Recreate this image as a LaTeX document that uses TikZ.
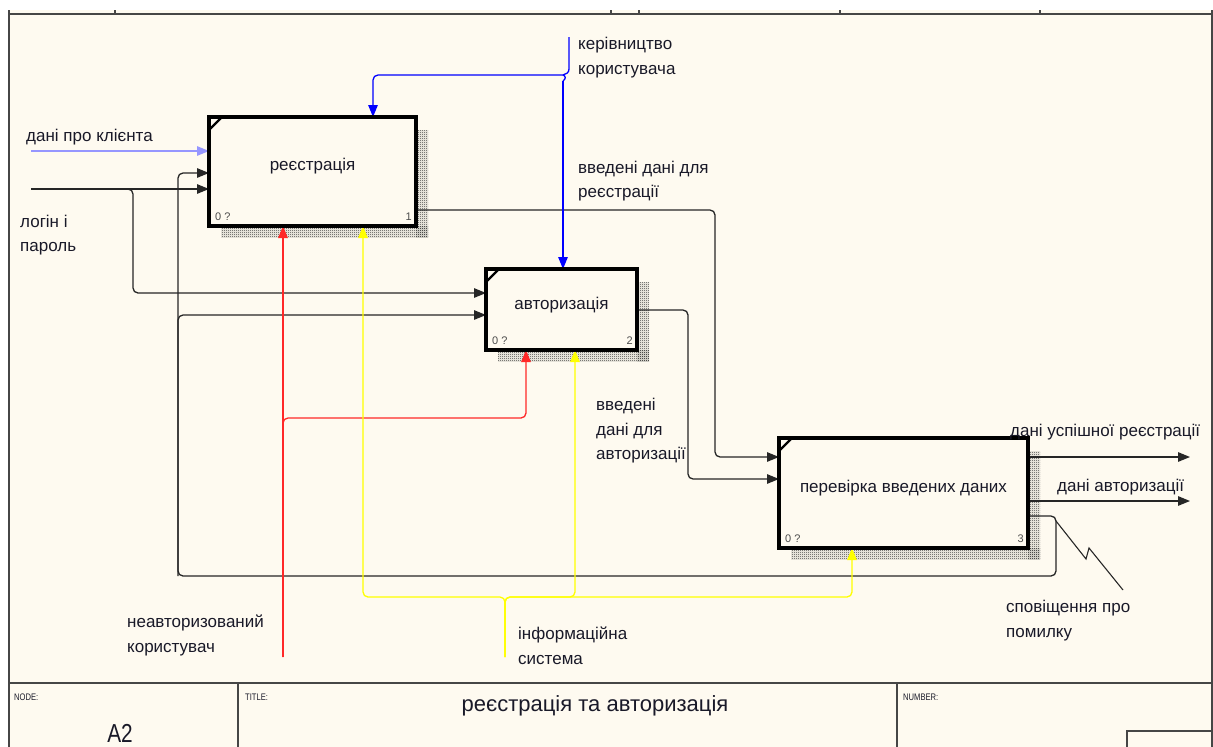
\documentclass[tikz,border=0pt]{standalone}
\usepackage{fontspec}
\setmainfont{Liberation Sans}
\usetikzlibrary{arrows.meta,patterns,calc}
\definecolor{cream}{RGB}{254,250,240}
\definecolor{lblue}{RGB}{150,150,255}
\definecolor{cblue}{RGB}{0,0,255}
\definecolor{cred}{RGB}{255,40,40}
\definecolor{cyel}{RGB}{255,255,0}
\definecolor{framec}{RGB}{70,70,70}
\definecolor{txtc}{RGB}{25,25,40}
\pgfdeclarepatternformonly{checkerdots}{\pgfqpoint{0pt}{0pt}}{\pgfqpoint{2pt}{2pt}}{\pgfqpoint{2pt}{2pt}}{%
  \pgfpathrectangle{\pgfqpoint{0pt}{0pt}}{\pgfqpoint{1pt}{1pt}}%
  \pgfpathrectangle{\pgfqpoint{1pt}{1pt}}{\pgfqpoint{1pt}{1pt}}%
  \pgfusepath{fill}}
\begin{document}
\begin{tikzpicture}[x=1pt,y=-1pt,
  conn/.style={draw=black!85, line width=1.3pt, rounded corners=5pt},
  arr/.style={-{Triangle[length=12pt,width=9.5pt]}},
  procbox/.style={draw=black, line width=3.2pt, fill=cream, inner sep=0pt, outer sep=0pt},
  shade/.style={pattern=checkerdots, pattern color=black!80},
  lbl/.style={anchor=base west, inner sep=0pt, font=\fontsize{17}{20}\selectfont, text=txtc},
  boxtxt/.style={inner sep=0pt, font=\fontsize{17}{20}\selectfont, text=txtc},
  num/.style={anchor=base west, inner sep=0pt, font=\fontsize{11}{12}\selectfont, text=black!70},
  frameline/.style={draw=framec, line width=1.3pt},
  tinylbl/.style={anchor=base west, inner sep=0pt, font=\fontsize{9.5}{11}\selectfont, text=txtc}
]
\useasboundingbox (0,0) rectangle (1213,747);
\fill[cream] (9,10) rectangle (1212,747);

% frame
\draw[frameline] (9,10) -- (9,747);
\draw[frameline] (9,14) -- (1212,14);
\draw[frameline] (1212,10) -- (1212,747);
\foreach \t in {115,611,639,840,1040} \draw[frameline] (\t,10) -- (\t,14);
\draw[frameline] (9,683) -- (1212,683);
\draw[frameline] (238,683) -- (238,747);
\draw[frameline] (897,683) -- (897,747);
\draw[frameline] (1127,747) -- (1127,731) -- (1212,731);

% boxes (placed first to get anchors)
\node[procbox, minimum width=207pt, minimum height=109pt] (b1) at (312.5,171.5) {};
\node[procbox, minimum width=151pt, minimum height=81pt] (b2) at (561.5,309.5) {};
\node[procbox, minimum width=249pt, minimum height=110pt] (b3) at (903.5,493) {};

% shadows
\foreach \b in {b1,b2,b3}{
  \fill[shade] ($(\b.north east)+(0,13)$) rectangle ($(\b.south east)+(12,11)$);
  \fill[shade] ($(\b.south west)+(12,0)$) rectangle ($(\b.south east)+(12,11)$);
}

% inputs
\coordinate (c1) at (31,151);
\coordinate (c2) at (31,189);
\coordinate (j1) at (133,189);
\coordinate (j1b) at (133,293);
\draw[conn, arr, draw=lblue] (c1) -- (c1 -| b1.west);
\draw[conn, arr] (c2) -- (c2 -| b1.west);
\draw[conn, arr] (c2) -- (j1) -- (j1b) -- (j1b -| b2.west);

% feedback from box 3
\coordinate (f1) at (1056,516);
\coordinate (f2) at (1056,576);
\coordinate (f3) at (178,576);
\coordinate (f4) at (178,173);
\coordinate (f5) at (178,315);
\draw[conn, arr] (f1 -| b3.east) -- (f1) -- (f2) -- (f3) -- (f4) -- (f4 -| b1.west);
\draw[conn, arr] (f3) -- (f5) -- (f5 -| b2.west);

% zigzag
\coordinate (z0) at (1056,521);
\coordinate (z3) at (1123,590);
\draw[draw=black!85, line width=1.1pt] (z0) -- (1086,559) -- (1089,548) -- (z3);

% outputs box1, box2
\coordinate (o1) at (715,210);
\coordinate (o1b) at (715,457);
\draw[conn, arr] (o1 -| b1.east) -- (o1) -- (o1b) -- (o1b -| b3.west);
\coordinate (o2) at (688,310);
\coordinate (o2b) at (688,479);
\draw[conn, arr] (o2 -| b2.east) -- (o2) -- (o2b) -- (o2b -| b3.west);

% outputs box3
\coordinate (e1) at (1190,457);
\coordinate (e2) at (1190,501);
\draw[conn, arr] (e1 -| b3.east) -- (e1);
\draw[conn, arr] (e2 -| b3.east) -- (e2);

% control (blue)
\coordinate (k0) at (569,37);
\coordinate (k1) at (563,75);
\coordinate (k2) at (373,75);
\coordinate (k3) at (563,81);
\draw[draw=cblue, line width=1.3pt] (k0) -- (569,69) .. controls (569,73) and (566,74) .. (k1);
\draw[conn, arr, draw=cblue] (k1) -- (k2) -- (k2 |- b1.north);
\draw[draw=cblue, line width=1.3pt] (k1) .. controls (566,76) and (566,79) .. (k3);
\draw[conn, arr, draw=cblue] (k3) -- (k3 |- b2.north);

% mechanism red
\coordinate (r0) at (283,657);
\coordinate (r1) at (283,418);
\coordinate (r2) at (526,418);
\draw[conn, arr, draw=cred] (r0) -- (r0 |- b1.south);
\draw[conn, arr, draw=cred] (r0) -- (r1) -- (r2) -- (r2 |- b2.south);

% mechanism yellow
\coordinate (y0) at (505,657);
\coordinate (y1) at (505,597);
\coordinate (y2) at (363,597);
\coordinate (y3) at (575,597);
\coordinate (y4) at (852,597);
\draw[conn, arr, draw=cyel] (y0) -- (y1) -- (y2) -- (y2 |- b1.south);
\draw[conn, arr, draw=cyel] (y0) -- (y1) -- (y3) -- (y3 |- b2.south);
\draw[conn, arr, draw=cyel] (y0) -- (y1) -- (y4) -- (y4 |- b3.south);

% redraw boxes on top
\node[procbox, minimum width=207pt, minimum height=109pt] (b1) at (312.5,171.5) {};
\node[procbox, minimum width=151pt, minimum height=81pt] (b2) at (561.5,309.5) {};
\node[procbox, minimum width=249pt, minimum height=110pt] (b3) at (903.5,493) {};
\foreach \b in {b1,b2,b3}{
  \draw[line width=2.2pt] ($(\b.north west)+(0,13)$) -- ($(\b.north west)+(13,0)$);
}

% box texts
\node[boxtxt] (t1) at ($(b1.center)+(0,-5)$) {реєстрація};
\node[boxtxt] (t2) at ($(b2.center)+(0,-4)$) {авторизація};
\node[boxtxt] (t3) at ($(b3.center)+(0,-5)$) {перевірка введених даних};

\node[num] (n1a) at ($(b1.south west)+(6,-6)$) {0 ?};
\node[num, anchor=base east] (n1b) at ($(b1.south east)+(-4,-6)$) {1};
\node[num] (n2a) at ($(b2.south west)+(6,-6)$) {0 ?};
\node[num, anchor=base east] (n2b) at ($(b2.south east)+(-4,-6)$) {2};
\node[num] (n3a) at ($(b3.south west)+(6,-6)$) {0 ?};
\node[num, anchor=base east] (n3b) at ($(b3.south east)+(-4,-6)$) {3};

% labels
\node[lbl] (l1) at (26,141) {дані про клієнта};
\node[lbl] (l2a) at (20,227) {логін і};
\node[lbl] (l2b) at (20,251) {пароль};
\node[lbl] (l3a) at (578,49) {керівництво};
\node[lbl] (l3b) at (578,74) {користувача};
\node[lbl] (l4a) at (578,173) {введені дані для};
\node[lbl] (l4b) at (578,197) {реєстрації};
\node[lbl] (l5a) at (596,410) {введені};
\node[lbl] (l5b) at (596,435) {дані для};
\node[lbl] (l5c) at (596,459) {авторизації};
\node[lbl] (l6) at (1010,436) {дані успішної реєстрації};
\node[lbl] (l7) at (1057,491) {дані авторизації};
\node[lbl] (l8a) at (1006,612) {сповіщення про};
\node[lbl] (l8b) at (1006,637) {помилку};
\node[lbl] (l9a) at (127,627) {неавторизований};
\node[lbl] (l9b) at (127,652) {користувач};
\node[lbl] (l10a) at (518,639) {інформаційна};
\node[lbl] (l10b) at (518,664) {система};

% title block
\node[tinylbl] (nd) at (14,700) {\scalebox{0.8}[1]{NODE:}};
\node[tinylbl] (tt) at (245,700) {\scalebox{0.8}[1]{TITLE:}};
\node[tinylbl] (nb) at (903,700) {\scalebox{0.8}[1]{NUMBER:}};
\node[anchor=base, inner sep=0pt, font=\fontsize{26}{30}\selectfont, text=txtc] (a2) at (120,742) {\scalebox{0.8}[1]{A2}};
\node[anchor=base, inner sep=0pt, font=\fontsize{22}{26}\selectfont, text=txtc] (ttl) at (595,711) {реєстрація та авторизація};
\end{tikzpicture}
\end{document}
